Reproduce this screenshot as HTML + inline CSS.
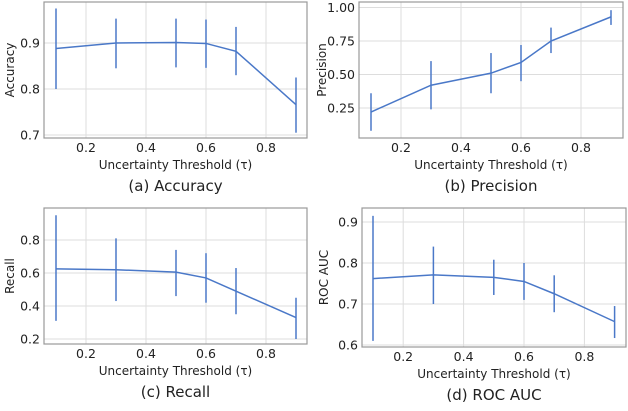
<!DOCTYPE html>
<html><head><meta charset="utf-8"><style>
body{margin:0;background:#fff;}
svg text{font-family:"DejaVu Sans","Liberation Sans",sans-serif;fill:#222;}
</style></head><body>
<svg id="c" width="628" height="406" viewBox="0 0 628 406" xmlns="http://www.w3.org/2000/svg"></svg>
<script>
const thresholds=[0.1,0.3,0.5,0.6,0.7,0.9];
const accMean=[0.888,0.900,0.901,0.899,0.882,0.766];
const accLo=[0.800,0.845,0.847,0.846,0.830,0.705];
const accHi=[0.975,0.953,0.953,0.951,0.935,0.825];
const precMean=[0.22,0.42,0.51,0.59,0.75,0.93];
const precLo=[0.08,0.24,0.36,0.45,0.66,0.87];
const precHi=[0.36,0.60,0.66,0.72,0.85,0.98];
const recMean=[0.625,0.62,0.605,0.57,0.49,0.33];
const recLo=[0.31,0.43,0.46,0.42,0.35,0.20];
const recHi=[0.95,0.81,0.74,0.72,0.63,0.45];
const aucMean=[0.762,0.771,0.765,0.755,0.725,0.657];
const aucLo=[0.61,0.70,0.722,0.71,0.68,0.617];
const aucHi=[0.915,0.84,0.808,0.80,0.77,0.695];
const xTicks=[0.2,0.4,0.6,0.8];
const accTicks=[0.7,0.8,0.9];
const precTicks=[0.25,0.50,0.75,1.00];
const recTicks=[0.2,0.4,0.6,0.8];
const aucTicks=[0.6,0.7,0.8,0.9];
const svg=document.getElementById('c');
const NS='http://www.w3.org/2000/svg';
function mk(tag,attrs,parent){const e=document.createElementNS(NS,tag);for(const k in attrs)e.setAttribute(k,attrs[k]);(parent||svg).appendChild(e);return e;}
function panel(name,p,mean,lo,hi,yTicks,yFmt,ylabel,caption){
  const g=mk('g',{});
  
  
  const xs=v=>p.x0+(v-0.1)*p.xk;
  const ys=v=>p.y0-(v-p.v0)*p.yk;
  xTicks.forEach(t=>{
    const l=mk('line',{x1:xs(t),x2:xs(t),y1:p.top,y2:p.bot,stroke:'#ddd','stroke-width':1},g);
    
    
    const tx=mk('text',{x:xs(t),y:p.bot+14,'font-size':12.5,'text-anchor':'middle'},g);tx.textContent=t.toFixed(1);
    
    
  });
  yTicks.forEach(t=>{
    const l=mk('line',{x1:p.left,x2:p.right,y1:ys(t),y2:ys(t),stroke:'#ddd','stroke-width':1},g);
    
    
    const tx=mk('text',{x:p.left-4,y:ys(t)+4.5,'font-size':12.5,'text-anchor':'end'},g);tx.textContent=t.toFixed(yFmt);
    
    
  });
  const box=mk('rect',{x:p.left,y:p.top,width:p.right-p.left,height:p.bot-p.top,fill:'none',stroke:'#999','stroke-width':1.2},g);
  
  
  const line=mk('polyline',{points:thresholds.map((t,i)=>xs(t)+','+ys(mean[i])).join(' '),fill:'none',stroke:'#4a78c8','stroke-width':1.5},g);
  
  
  thresholds.forEach((t,i)=>{
    const e=mk('line',{x1:xs(t),x2:xs(t),y1:ys(lo[i]),y2:ys(hi[i]),stroke:'#4a78c8','stroke-width':1.5},g);
    
    
  });
  const yl=mk('text',{x:0,y:0,'font-size':12,'text-anchor':'middle',transform:`translate(${p.yl},${(p.top+p.bot)/2}) rotate(-90)`},g);yl.textContent=ylabel;
  
  
  const xl=mk('text',{x:(p.left+p.right)/2,y:p.bot+31,'font-size':12,'text-anchor':'middle'},g);xl.textContent='Uncertainty Threshold (τ)';
  
  
  const cp=mk('text',{x:(p.left+p.right)/2,y:p.bot+53,'font-size':15,'text-anchor':'middle'},g);cp.textContent=caption;
  
  
}
panel('accuracy',{left:44,right:307,top:2,bot:138,x0:56,xk:300,y0:135,v0:0.7,yk:460,yl:14},accMean,accLo,accHi,accTicks,1,'Accuracy','(a) Accuracy');
panel('precision',{left:359,right:623,top:2,bot:138,x0:371,xk:300,y0:108,v0:0.25,yk:134,yl:326},precMean,precLo,precHi,precTicks,2,'Precision','(b) Precision');
panel('recall',{left:44,right:307,top:208,bot:344,x0:56,xk:300,y0:339,v0:0.2,yk:165,yl:14},recMean,recLo,recHi,recTicks,1,'Recall','(c) Recall');
panel('roc-auc',{left:362,right:626,top:208,bot:347,x0:373,xk:302,y0:345,v0:0.6,yk:410,yl:328},aucMean,aucLo,aucHi,aucTicks,1,'ROC AUC','(d) ROC AUC');
</script>
</body></html>
